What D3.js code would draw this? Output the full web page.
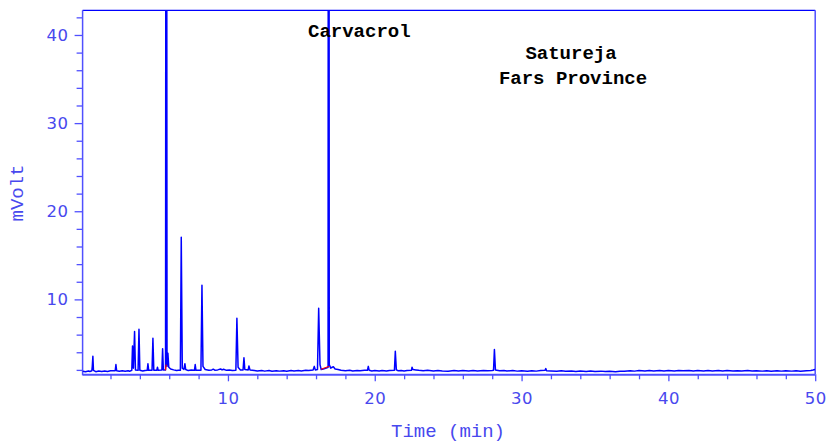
<!DOCTYPE html>
<html>
<head>
<meta charset="utf-8">
<script src="https://cdn.jsdelivr.net/npm/d3@7/dist/d3.min.js"></script>
<style>
  body { margin: 0; background: #fff; }
</style>
</head>
<body>
<div id="container"></div>
<script>
// chromatogram trace, [time (min), mVolt]
var trace = [
  [0.1,1.85],[0.3,1.8],[0.5,1.88],[0.6,1.82],[0.73,1.9],[0.76,2.4],[0.8,3.55],[0.84,1.95],[1.0,1.8],[1.2,1.88],
  [1.4,1.82],[1.6,1.87],[1.8,1.82],[2.0,1.9],[2.32,1.9],[2.37,2.6],[2.42,1.9],[2.6,1.84],[2.8,1.9],[3.0,1.85],
  [3.2,1.9],[3.3,1.85],[3.45,1.95],[3.5,4.7],[3.56,2.2],[3.64,6.35],[3.7,2.0],[3.88,1.95],[3.94,6.6],[4.0,1.95],
  [4.2,1.88],[4.35,1.93],[4.5,1.95],[4.55,2.7],[4.6,1.95],[4.83,1.95],[4.89,5.6],[4.95,1.95],[5.15,1.95],[5.2,2.3],
  [5.25,1.95],[5.5,2.0],[5.55,4.4],[5.6,2.0],[5.75,2.0],[5.8,150],[5.85,2.4],[5.91,3.9],[5.97,2.3],[6.1,2.1],
  [6.3,2.0],[6.5,1.92],[6.6,1.97],[6.76,1.95],[6.82,17.05],[6.89,2.2],[7.0,2.05],[7.07,2.7],[7.12,2.05],[7.3,1.92],
  [7.5,1.98],[7.72,1.95],[7.77,2.6],[7.82,1.95],[8.16,1.95],[8.23,11.6],[8.3,2.4],[8.45,2.05],[8.7,1.95],[8.9,2.0],
  [9.0,2.08],[9.1,1.97],[9.3,2.0],[9.5,2.1],[9.6,2.0],[9.7,2.07],[9.9,1.95],[10.1,1.98],[10.3,1.93],[10.54,1.95],
  [10.61,7.87],[10.69,2.3],[10.85,2.0],[11.03,2.0],[11.09,3.37],[11.15,2.05],[11.38,2.0],[11.43,2.45],[11.5,2.0],[11.8,1.93],
  [12.0,1.88],[12.3,1.93],[12.5,1.86],[12.8,1.92],[13.0,1.85],[13.3,1.91],[13.5,1.86],[13.8,1.9],[14.0,1.85],[14.3,1.92],
  [14.5,1.87],[14.8,1.93],[15.0,1.88],[15.3,1.95],[15.5,1.92],[15.8,2.0],[15.88,2.4],[15.95,2.0],[16.1,2.05],[16.18,9.0],
  [16.27,2.6],[16.35,2.05],[16.5,2.1],[16.7,2.2],[16.82,2.3],[16.86,200],[16.9,2.6],[17.0,2.2],[17.1,2.3],[17.18,2.35],
  [17.3,2.1],[17.5,2.05],[17.7,1.95],[18.0,1.9],[18.3,1.95],[18.5,1.88],[18.8,1.93],[19.0,1.9],[19.3,1.95],[19.5,1.95],
  [19.56,2.4],[19.62,1.95],[19.8,1.88],[20.0,1.92],[20.3,1.87],[20.5,1.92],[20.8,1.87],[21.0,1.92],[21.34,1.95],[21.4,4.12],
  [21.47,2.0],[21.6,1.9],[21.8,1.94],[22.0,1.88],[22.2,1.93],[22.5,1.95],[22.54,2.3],[22.6,2.05],[22.8,2.0],[23.0,1.95],
  [23.3,1.9],[23.6,1.95],[24.0,1.88],[24.3,1.93],[24.6,1.87],[25.0,1.85],[25.4,1.92],[25.7,1.87],[26.0,1.93],[26.4,1.88],
  [26.7,1.93],[27.0,1.88],[27.4,1.93],[27.7,1.89],[28.0,1.93],[28.09,1.95],[28.15,4.3],[28.22,2.0],[28.5,1.9],[28.8,1.94],
  [29.0,1.88],[29.4,1.92],[29.7,1.86],[30.0,1.9],[30.4,1.85],[30.7,1.9],[31.0,1.86],[31.3,1.92],[31.6,1.95],[31.65,2.15],
  [31.7,1.9],[32.0,1.88],[32.4,1.84],[32.7,1.89],[33.0,1.84],[33.4,1.88],[33.7,1.83],[34.0,1.88],[34.4,1.83],[34.7,1.87],
  [35.0,1.82],[35.4,1.86],[35.7,1.81],[36.0,1.84],[36.4,1.8],[36.7,1.85],[37.0,1.84],[37.4,1.9],[37.7,1.86],[38.0,1.92],
  [38.4,1.87],[38.7,1.92],[39.0,1.88],[39.4,1.93],[39.7,1.88],[40.0,1.92],[40.4,1.87],[40.7,1.93],[41.0,1.89],[41.4,1.94],
  [41.7,1.88],[42.0,1.92],[42.4,1.87],[42.7,1.92],[43.0,1.88],[43.4,1.93],[43.7,1.88],[44.0,1.92],[44.4,1.87],[44.7,1.91],
  [45.0,1.87],[45.4,1.92],[45.7,1.87],[46.0,1.91],[46.4,1.86],[46.7,1.91],[47.0,1.85],[47.4,1.9],[47.7,1.86],[48.0,1.91],
  [48.4,1.86],[48.7,1.9],[49.0,1.85],[49.4,1.9],[49.7,1.92],[49.85,1.98],[50.0,2.05]
];

// red integration baselines
var redMarks = [
  [[5.74,1.95],[5.79,2.6]],
  [[16.34,2.07],[16.9,2.41]]
];

var xMajor = [10, 20, 30, 40, 50];
var xMinor = [2, 4, 6, 8, 12, 14, 16, 18, 22, 24, 26, 28, 32, 34, 36, 38, 42, 44, 46, 48];
var yMajor = [10, 20, 30, 40];
var yMinor = [2, 4, 6, 8, 12, 14, 16, 18, 22, 24, 26, 28, 32, 34, 36, 38, 42];

var labels = [
  {text: "Carvacrol", x: 308, y: 37, anchor: "start"},
  {text: "Satureja", x: 571, y: 59, anchor: "middle"},
  {text: "Fars Province", x: 573, y: 84, anchor: "middle"}
];

var axisColor = "#5050ff";

var margin = {top: 10.3, right: 13.8, bottom: 67.7, left: 82.6};
var width = 829 - margin.left - margin.right;
var height = 442 - margin.top - margin.bottom;

var svg = d3.select("#container")
  .append("svg")
    .attr("width", 829)
    .attr("height", 442);

var g = svg.append("g")
  .attr("transform", "translate(" + margin.left + "," + margin.top + ")");

var x = d3.scaleLinear().domain([0.1, 50]).range([0, width]);
var y = d3.scaleLinear().domain([1.5, 42.8]).range([height, 0]);

// minor ticks
g.append("g")
  .attr("transform", "translate(0," + height + ")")
  .call(d3.axisBottom(x).tickValues(xMinor).tickSize(5).tickFormat(""))
  .call(function (s) { s.select(".domain").remove(); });

g.append("g")
  .call(d3.axisLeft(y).tickValues(yMinor).tickSize(6).tickFormat(""))
  .call(function (s) { s.select(".domain").remove(); });

// major ticks + labels
var xAxis = g.append("g")
  .attr("transform", "translate(0," + height + ")")
  .call(d3.axisBottom(x).tickValues(xMajor).tickSizeInner(7).tickSizeOuter(0).tickPadding(11).tickFormat(d3.format("d")));

var yAxis = g.append("g")
  .call(d3.axisLeft(y).tickValues(yMajor).tickSizeInner(8).tickSizeOuter(0).tickPadding(6).tickFormat(d3.format("d")));

[xAxis, yAxis].forEach(function (a) {
  a.select(".domain").remove();
  a.selectAll("text")
    .attr("fill", "#4848ee")
    .style("font-family", "'DejaVu Sans', sans-serif")
    .style("font-size", "16.5px")
    .style("letter-spacing", "0.5px");
});
g.selectAll(".tick line").attr("stroke", axisColor).attr("stroke-width", 1.3);

// frame
g.append("line").attr("x1", 0).attr("x2", width).attr("y1", 0).attr("y2", 0)
  .attr("stroke", "#0000ff").attr("stroke-width", 1.3);
g.append("line").attr("x1", width).attr("x2", width).attr("y1", 0).attr("y2", height)
  .attr("stroke", axisColor).attr("stroke-width", 1.5);
g.append("line").attr("x1", 0).attr("x2", 0).attr("y1", 0).attr("y2", height + 1)
  .attr("stroke", axisColor).attr("stroke-width", 1.5);
g.append("line").attr("x1", 0).attr("x2", width).attr("y1", height + 0.5).attr("y2", height + 0.5)
  .attr("stroke", axisColor).attr("stroke-width", 2);

// trace
g.append("clipPath").attr("id", "plotclip")
  .append("rect").attr("x", 0).attr("y", 0).attr("width", width).attr("height", height);

var line = d3.line()
  .x(function (d) { return x(d[0]); })
  .y(function (d) { return y(d[1]); });

var plot = g.append("g").attr("clip-path", "url(#plotclip)");

plot.append("path")
  .datum(trace)
  .attr("fill", "none")
  .attr("stroke", "#0000ff")
  .attr("stroke-width", 1.5)
  .attr("stroke-linejoin", "round")
  .attr("d", line);

plot.selectAll(".red")
  .data(redMarks)
  .enter()
  .append("path")
    .attr("fill", "none")
    .attr("stroke", "#ff0000")
    .attr("stroke-width", 1.2)
    .attr("d", line);

// axis titles
svg.append("text")
  .attr("x", 448).attr("y", 437)
  .attr("text-anchor", "middle")
  .attr("fill", "#4848ee")
  .style("font-family", "'Liberation Mono', monospace")
  .style("font-size", "19px")
  .text("Time (min)");

svg.append("text")
  .attr("transform", "translate(22.5,193) rotate(-90)")
  .attr("text-anchor", "middle")
  .attr("fill", "#4848ee")
  .style("font-family", "'Liberation Mono', monospace")
  .style("font-size", "19px")
  .text("mVolt");

// annotations
svg.selectAll(".label")
  .data(labels)
  .enter()
  .append("text")
    .attr("x", function (d) { return d.x; })
    .attr("y", function (d) { return d.y; })
    .attr("text-anchor", function (d) { return d.anchor; })
    .attr("fill", "#000")
    .style("font-family", "'Liberation Mono', monospace")
    .style("font-weight", "bold")
    .style("font-size", "19px")
    .text(function (d) { return d.text; });
</script>
</body>
</html>
